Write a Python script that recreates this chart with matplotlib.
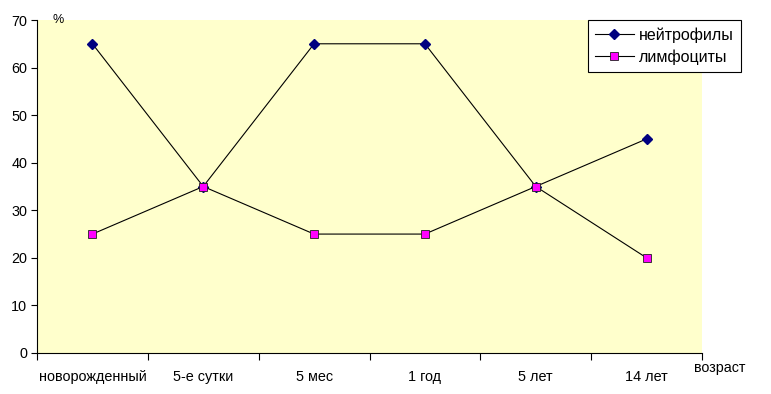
import matplotlib
matplotlib.use('Agg')
import matplotlib.pyplot as plt
import numpy as np

plt.rcParams['font.family'] = ['Liberation Sans', 'DejaVu Sans']

categories = ['новорожденный', '5-е сутки', '5 мес', '1 год', '5 лет', '14 лет']
neutrophils = [65, 35, 65, 65, 35, 45]
lymphocytes = [25, 35, 25, 25, 35, 20]

fig = plt.figure(figsize=(7.71, 3.94), dpi=100)
ax = fig.add_axes([37 / 771, 1 - 353 / 394, 665 / 771, 333 / 394])
ax.set_facecolor('#FFFFCC')

x = np.arange(len(categories))
ax.plot(x, neutrophils, color='black', lw=0.8, marker='D', ms=5,
        mfc='#000080', mec='#000080', label='нейтрофилы')
ax.plot(x, lymphocytes, color='black', lw=0.8, marker='s', ms=5.5,
        mfc='#FF00FF', mec='#202020', mew=0.6, label='лимфоциты')

ax.set_xlim(-0.5, len(categories) - 0.5)
ax.set_ylim(0, 70)
ax.set_yticks(range(0, 71, 10))
ax.set_xticks(np.arange(-0.5, len(categories), 1.0))
ax.set_xticklabels([])
ax.set_xticks(x, minor=True)
ax.set_xticklabels(categories, minor=True)
ax.tick_params(axis='x', which='minor', length=0, pad=12, labelsize=10.4)
ax.tick_params(axis='x', which='major', length=5, direction='out', width=0.8)
ax.tick_params(axis='y', length=4, direction='out', labelsize=10.4, width=0.8, pad=3)

for s in ['top', 'right']:
    ax.spines[s].set_visible(False)
for s in ['left', 'bottom']:
    ax.spines[s].set_linewidth(0.8)

fig.text(58 / 771, 1 - 20 / 394, '%', fontsize=9, ha='center', va='center')
fig.text(720 / 771, 1 - 368 / 394, 'возраст', fontsize=10.3, ha='center', va='center')

leg = fig.legend(loc='upper left', bbox_to_anchor=(588 / 771, 1 - 20 / 394),
                 fontsize=11.5, frameon=True, fancybox=False, edgecolor='black',
                 framealpha=1, borderpad=0.45, handlelength=2.4, labelspacing=0.4,
                 handletextpad=0.35, borderaxespad=0)
leg.get_frame().set_linewidth(0.8)

fig.savefig('out.png', dpi=100, facecolor='white')
